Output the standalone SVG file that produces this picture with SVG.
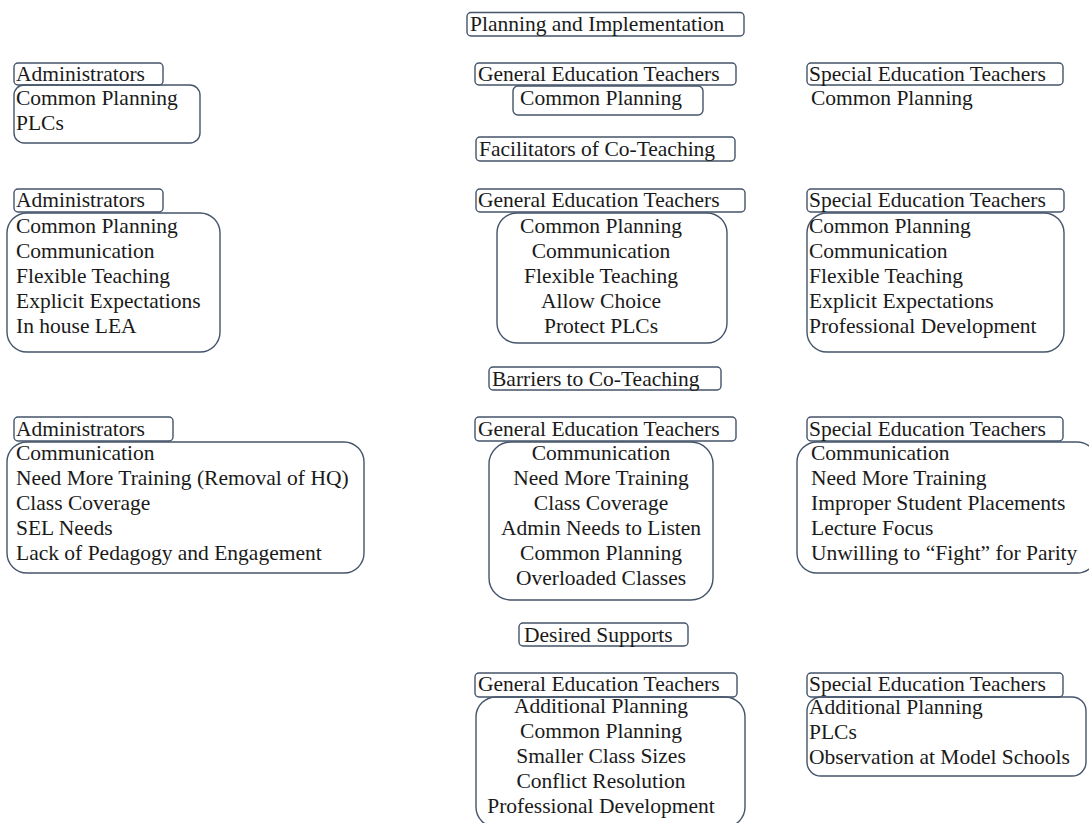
<svg xmlns="http://www.w3.org/2000/svg" width="1089" height="823" viewBox="0 0 1089 823" font-family="'Liberation Serif', Tinos, 'DejaVu Serif', serif" font-size="21.5">
<style>
rect{fill:none;stroke:#44546a;stroke-width:1.4}
text{fill:#1a1a1a;font-family:'Liberation Serif',Tinos,'DejaVu Serif',serif}
.c{text-anchor:middle}
</style>
<rect x="0" y="0" width="1089" height="823" style="fill:#fff;stroke:none"/>
<g id="connectors"></g>
<g id="title-planning"><rect x="467" y="12.5" width="277" height="23.5" rx="4"/><text x="470" y="31">Planning and Implementation</text></g>
<g id="r1-admin-h"><rect x="14" y="63" width="149" height="22" rx="4"/><text x="16" y="81">Administrators</text></g>
<g id="r1-admin-b"><rect x="14" y="85" width="186" height="58" rx="10"/><text x="16" y="105">Common Planning</text><text x="16" y="130">PLCs</text></g>
<g id="r1-gen-h"><rect x="475" y="63" width="261" height="22" rx="4"/><text x="478" y="81">General Education Teachers</text></g>
<g id="r1-gen-b"><rect x="513" y="86" width="190" height="29" rx="5"/><text class="c" x="601" y="105">Common Planning</text></g>
<g id="r1-spec-h"><rect x="807" y="63" width="256" height="22" rx="4"/><text x="809" y="81">Special Education Teachers</text></g>
<g id="r1-spec-b"><text x="811" y="105">Common Planning</text></g>

<g id="title-facilitators"><rect x="476" y="137" width="259" height="24" rx="4"/><text x="479" y="156">Facilitators of Co-Teaching</text></g>
<g id="r2-admin-h"><rect x="14" y="189" width="149" height="23" rx="4"/><text x="16" y="207">Administrators</text></g>
<g id="r2-admin-b"><rect x="7" y="213" width="213" height="139" rx="20"/><text x="16" y="233">Common Planning</text><text x="16" y="258">Communication</text><text x="16" y="283">Flexible Teaching</text><text x="16" y="308">Explicit Expectations</text><text x="16" y="333">In house LEA</text></g>
<g id="r2-gen-h"><rect x="476" y="189" width="269" height="23" rx="4"/><text x="478" y="207">General Education Teachers</text></g>
<g id="r2-gen-b"><rect x="497" y="213" width="230" height="130" rx="20"/><text class="c" x="601" y="233">Common Planning</text><text class="c" x="601" y="258">Communication</text><text class="c" x="601" y="283">Flexible Teaching</text><text class="c" x="601" y="308">Allow Choice</text><text class="c" x="601" y="333">Protect PLCs</text></g>
<g id="r2-spec-h"><rect x="807" y="189" width="257" height="23" rx="4"/><text x="809" y="207">Special Education Teachers</text></g>
<g id="r2-spec-b"><rect x="807" y="213" width="257" height="139" rx="20"/><text x="809" y="233">Common Planning</text><text x="809" y="258">Communication</text><text x="809" y="283">Flexible Teaching</text><text x="809" y="308">Explicit Expectations</text><text x="809" y="333">Professional Development</text></g>

<g id="title-barriers"><rect x="489" y="367" width="232" height="23" rx="4"/><text x="492" y="385.5">Barriers to Co-Teaching</text></g>
<g id="r3-admin-h"><rect x="14" y="417" width="159" height="24" rx="4"/><text x="16" y="436">Administrators</text></g>
<g id="r3-admin-b"><rect x="7" y="442" width="357" height="131" rx="20"/><text x="16" y="460">Communication</text><text x="16" y="485">Need More Training (Removal of HQ)</text><text x="16" y="510">Class Coverage</text><text x="16" y="535">SEL Needs</text><text x="16" y="560">Lack of Pedagogy and Engagement</text></g>
<g id="r3-gen-h"><rect x="475" y="417" width="261" height="24" rx="4"/><text x="478" y="436">General Education Teachers</text></g>
<g id="r3-gen-b"><rect x="489" y="442" width="224" height="158" rx="22"/><text class="c" x="601" y="460">Communication</text><text class="c" x="601" y="485">Need More Training</text><text class="c" x="601" y="510">Class Coverage</text><text class="c" x="601" y="535">Admin Needs to Listen</text><text class="c" x="601" y="560">Common Planning</text><text class="c" x="601" y="585">Overloaded Classes</text></g>
<g id="r3-spec-h"><rect x="807" y="417" width="256" height="24" rx="4"/><text x="809" y="436">Special Education Teachers</text></g>
<g id="r3-spec-b"><rect x="797" y="442" width="300" height="131" rx="20"/><text x="811" y="460">Communication</text><text x="811" y="485">Need More Training</text><text x="811" y="510">Improper Student Placements</text><text x="811" y="535">Lecture Focus</text><text x="811" y="560">Unwilling to “Fight” for Parity</text></g>

<g id="title-supports"><rect x="519" y="623" width="169" height="23" rx="4"/><text x="524" y="641.5">Desired Supports</text></g>
<g id="r4-gen-h"><rect x="475" y="673" width="262" height="24" rx="4"/><text x="478" y="691">General Education Teachers</text></g>
<g id="r4-gen-b"><rect x="476" y="697" width="269" height="130" rx="20"/><text class="c" x="601" y="713">Additional Planning</text><text class="c" x="601" y="738">Common Planning</text><text class="c" x="601" y="763">Smaller Class Sizes</text><text class="c" x="601" y="788">Conflict Resolution</text><text class="c" x="601" y="813">Professional Development</text></g>
<g id="r4-spec-h"><rect x="807" y="673" width="256" height="24" rx="4"/><text x="809" y="691">Special Education Teachers</text></g>
<g id="r4-spec-b"><rect x="807" y="697" width="279" height="79" rx="14"/><text x="809" y="714">Additional Planning</text><text x="809" y="739">PLCs</text><text x="809" y="764">Observation at Model Schools</text></g>
</svg>
